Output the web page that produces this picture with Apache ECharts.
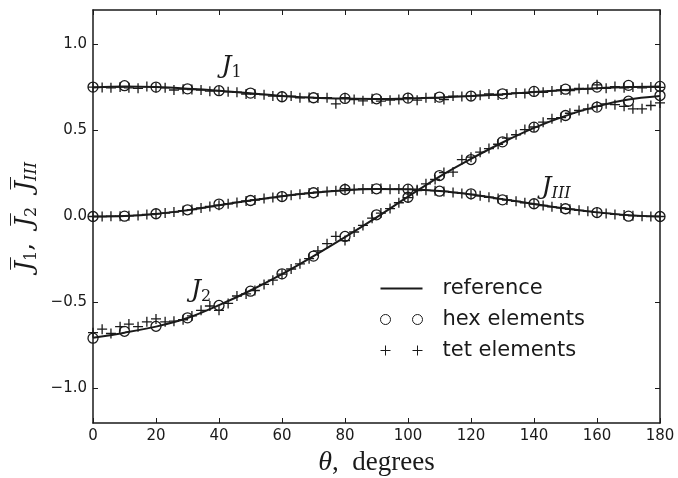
<!DOCTYPE html>
<html>
<head>
<meta charset="utf-8">
<script src="https://cdn.jsdelivr.net/npm/echarts@6/dist/echarts.min.js"></script>
<style>
  html, body { margin: 0; background: #fff; }
  #chart { width: 678px; height: 478px; }
</style>
</head>
<body>
<div id="chart"></div>
<script>
// angle, degrees
var refTheta = [0, 10, 20, 30, 40, 50, 60, 70, 80, 90, 100, 110, 120, 130, 140, 150, 160, 170, 180];
var hexTheta = [0, 10, 20, 30, 40, 50, 60, 70, 80, 90, 100, 110, 120, 130, 140, 150, 160, 170, 180];
var tetTheta = [0, 2.9, 5.7, 8.6, 11.4, 14.3, 17.1, 20, 22.9, 25.7, 28.6, 31.4, 34.3, 37.1, 40, 42.9,
  45.7, 48.6, 51.4, 54.3, 57.1, 60, 62.9, 65.7, 68.6, 71.4, 74.3, 77.1, 80, 82.9, 85.7, 88.6,
  91.4, 94.3, 97.1, 100, 102.9, 105.7, 108.6, 111.4, 114.3, 117.1, 120, 122.9, 125.7, 128.6, 131.4, 134.3,
  137.1, 140, 142.9, 145.7, 148.6, 151.4, 154.3, 157.1, 160, 162.9, 165.7, 168.6, 171.4, 174.3, 177.1, 180];

// reference solution
var refJ1 = [0.750, 0.755, 0.752, 0.743, 0.731, 0.716, 0.700, 0.690, 0.685, 0.683, 0.686, 0.692, 0.700, 0.711, 0.723, 0.735, 0.745, 0.752, 0.755];
var refJ2 = [-0.705, -0.675, -0.640, -0.590, -0.515, -0.430, -0.335, -0.230, -0.120, -0.005, 0.115, 0.232, 0.335, 0.430, 0.515, 0.585, 0.640, 0.680, 0.700];
var refJ3 = [0.000, 0.003, 0.015, 0.037, 0.066, 0.093, 0.118, 0.138, 0.153, 0.160, 0.158, 0.148, 0.128, 0.101, 0.073, 0.046, 0.024, 0.008, 0.000];

// hex elements
var hexJ1 = [0.752, 0.760, 0.752, 0.742, 0.731, 0.717, 0.696, 0.690, 0.686, 0.684, 0.688, 0.694, 0.700, 0.713, 0.727, 0.740, 0.752, 0.762, 0.756];
var hexJ2 = [-0.707, -0.667, -0.638, -0.589, -0.517, -0.434, -0.333, -0.230, -0.116, 0.010, 0.112, 0.238, 0.331, 0.434, 0.519, 0.587, 0.636, 0.670, 0.703];
var hexJ3 = [0.000, 0.002, 0.016, 0.039, 0.072, 0.093, 0.116, 0.138, 0.157, 0.161, 0.159, 0.147, 0.132, 0.097, 0.074, 0.045, 0.023, 0.002, 0.000];

// tet elements
var tetJ1 = [0.752, 0.750, 0.748, 0.752, 0.748, 0.745, 0.755, 0.750, 0.748, 0.735, 0.740, 0.738, 0.735, 0.728, 0.730, 0.725,
  0.722, 0.712, 0.712, 0.708, 0.700, 0.698, 0.700, 0.690, 0.692, 0.688, 0.690, 0.655, 0.690, 0.680, 0.672, 0.684,
  0.670, 0.676, 0.680, 0.690, 0.676, 0.690, 0.688, 0.680, 0.700, 0.698, 0.700, 0.705, 0.712, 0.706, 0.712, 0.718,
  0.715, 0.724, 0.722, 0.730, 0.735, 0.732, 0.744, 0.740, 0.765, 0.745, 0.755, 0.748, 0.752, 0.748, 0.752, 0.750];
var tetJ2 = [-0.675, -0.655, -0.680, -0.640, -0.625, -0.640, -0.612, -0.595, -0.612, -0.608, -0.600, -0.578, -0.545, -0.520, -0.545, -0.505,
  -0.462, -0.450, -0.430, -0.395, -0.370, -0.335, -0.305, -0.275, -0.245, -0.200, -0.158, -0.115, -0.140, -0.090, -0.052, -0.010,
  0.020, 0.046, 0.080, 0.110, 0.150, 0.190, 0.215, 0.255, 0.258, 0.330, 0.345, 0.374, 0.395, 0.420, 0.455, 0.475,
  0.505, 0.520, 0.548, 0.568, 0.575, 0.600, 0.616, 0.626, 0.640, 0.655, 0.650, 0.640, 0.626, 0.626, 0.645, 0.660];
var tetJ3 = [0.000, 0.000, 0.002, 0.002, 0.004, 0.006, 0.012, 0.016, 0.020, 0.026, 0.034, 0.040, 0.050, 0.058, 0.066, 0.074,
  0.082, 0.090, 0.096, 0.104, 0.110, 0.118, 0.124, 0.130, 0.136, 0.142, 0.146, 0.150, 0.162, 0.158, 0.160, 0.160,
  0.162, 0.158, 0.160, 0.158, 0.156, 0.152, 0.150, 0.146, 0.140, 0.134, 0.128, 0.120, 0.112, 0.104, 0.096, 0.088,
  0.080, 0.072, 0.064, 0.056, 0.050, 0.042, 0.036, 0.030, 0.024, 0.018, 0.012, 0.008, 0.004, 0.002, 0.000, 0.000];

var yTicks = [-1.0, -0.5, 0.0, 0.5, 1.0];

// curve labels: [theta, value, subscript]
var curveLabels = [[44, 0.872, '1'], [34.3, -0.43, '2'], [147, 0.169, 'III']];

var ink = '#1a1a1a';

function pairs(xs, ys) {
  return xs.map(function (x, i) { return [x, ys[i]]; });
}

var chartDom = document.getElementById('chart');
var myChart = echarts.init(chartDom);

var frameLine = { show: true, onZero: false, lineStyle: { color: ink, width: 1.5 } };
var innerTick = { show: true, inside: true, length: 5, lineStyle: { color: ink, width: 1 } };
var tickFont = { color: ink, fontFamily: 'DejaVu Sans', fontSize: 15 };

function refSeries(vals) {
  return {
    name: 'reference', type: 'line', data: pairs(refTheta, vals),
    smooth: 0.3, symbol: 'none', z: 3,
    lineStyle: { color: ink, width: 2 }, itemStyle: { color: ink }
  };
}
function hexSeries(vals) {
  return {
    name: 'hex elements', type: 'scatter', data: pairs(hexTheta, vals),
    symbol: 'circle', symbolSize: 10, z: 2,
    itemStyle: { color: 'transparent', borderColor: ink, borderWidth: 1.3, opacity: 1 }
  };
}
function tetSeries(vals) {
  return {
    name: 'tet elements', type: 'scatter', data: pairs(tetTheta, vals),
    symbol: 'path://M5 0V10M0 5H10', symbolSize: 10, z: 2,
    itemStyle: { color: 'transparent', borderColor: ink, borderWidth: 1.3, opacity: 1 }
  };
}

var option = {
  animation: false,
  grid: { left: 93, right: 18, top: 10, bottom: 55, containLabel: false, outerBoundsMode: 'none' },
  legend: {
    orient: 'vertical', left: 375, top: 273,
    itemWidth: 42, itemHeight: 10, itemGap: 10,
    textStyle: { color: ink, fontFamily: 'DejaVu Sans', fontSize: 21, padding: [0, 0, 0, 15] },
    data: [
      { name: 'reference', icon: 'path://M0 0H42V2H0Z',
        itemStyle: { color: ink, borderWidth: 0 } },
      { name: 'hex elements',
        icon: 'path://M0 5A5 5 0 1 0 10 5A5 5 0 1 0 0 5ZM32 5A5 5 0 1 0 42 5A5 5 0 1 0 32 5Z',
        itemStyle: { color: 'transparent', borderColor: ink, borderWidth: 1, opacity: 1 } },
      { name: 'tet elements',
        icon: 'path://M5 0V10M0 5H10M37 0V10M32 5H42',
        itemStyle: { color: 'transparent', borderColor: ink, borderWidth: 1, opacity: 1 } }
    ]
  },
  xAxis: [{
    type: 'value', min: 0, max: 180, interval: 20,
    name: '{t|θ}{n|,  degrees}', nameLocation: 'middle', nameGap: 15,
    nameTextStyle: {
      rich: {
        t: { fontFamily: 'Liberation Serif', fontStyle: 'italic', fontSize: 28, color: ink },
        n: { fontFamily: 'Liberation Serif', fontSize: 27, color: ink }
      }
    },
    axisLine: frameLine, axisTick: innerTick,
    axisLabel: Object.assign({ margin: 6 }, tickFont),
    splitLine: { show: false }
  }, {
    type: 'value', min: 0, max: 180, interval: 20, position: 'top',
    axisLine: frameLine, axisTick: innerTick, axisLabel: { show: false }, splitLine: { show: false }
  }],
  yAxis: [{
    type: 'value', min: -1.2, max: 1.2,
    name: '{j|J\u0305}{s|1}{c|,  }{j|J\u0305}{s|2}{c|  }{j|J\u0305}{si|III}',
    nameLocation: 'middle', nameGap: 47, nameRotate: 90,
    nameTextStyle: {
      rich: {
        j: { fontFamily: 'DejaVu Serif', fontStyle: 'italic', fontSize: 25, color: ink },
        c: { fontFamily: 'DejaVu Serif', fontSize: 25, color: ink },
        s: { fontFamily: 'DejaVu Serif', fontSize: 16, color: ink, padding: [12, 0, 0, 0] },
        si: { fontFamily: 'DejaVu Serif', fontStyle: 'italic', fontSize: 16, color: ink, padding: [12, 0, 0, 0] }
      }
    },
    axisLine: frameLine,
    axisTick: Object.assign({ customValues: yTicks }, innerTick),
    axisLabel: Object.assign({
      margin: 6, customValues: yTicks,
      formatter: function (v) { return (v < 0 ? '\u2212' : '') + Math.abs(v).toFixed(1); }
    }, tickFont),
    splitLine: { show: false }
  }, {
    type: 'value', min: -1.2, max: 1.2, position: 'right',
    axisLine: frameLine,
    axisTick: Object.assign({ customValues: yTicks }, innerTick),
    axisLabel: { show: false }, splitLine: { show: false }
  }],
  series: [
    refSeries(refJ1), refSeries(refJ2), refSeries(refJ3),
    hexSeries(hexJ1), hexSeries(hexJ2), hexSeries(hexJ3),
    tetSeries(tetJ1), tetSeries(tetJ2), tetSeries(tetJ3),
    {
      name: 'labels', type: 'scatter', symbolSize: 0, silent: true,
      itemStyle: { opacity: 1 },
      data: curveLabels.map(function (d) { return { value: [d[0], d[1]], sub: d[2] }; }),
      label: {
        show: true, position: 'inside', opacity: 1,
        formatter: function (p) {
          return '{j|J}' + (p.data.sub === 'III' ? '{si|III}' : '{s|' + p.data.sub + '}');
        },
        rich: {
          j: { fontFamily: 'DejaVu Serif', fontStyle: 'italic', fontSize: 25, color: ink },
          s: { fontFamily: 'DejaVu Serif', fontSize: 16, color: ink, padding: [12, 0, 0, 0] },
          si: { fontFamily: 'DejaVu Serif', fontStyle: 'italic', fontSize: 16, color: ink, padding: [12, 0, 0, 0] }
        }
      }
    }
  ]
};

myChart.setOption(option);
window.addEventListener('resize', function () {
  myChart.resize();
});
</script>
</body>
</html>
